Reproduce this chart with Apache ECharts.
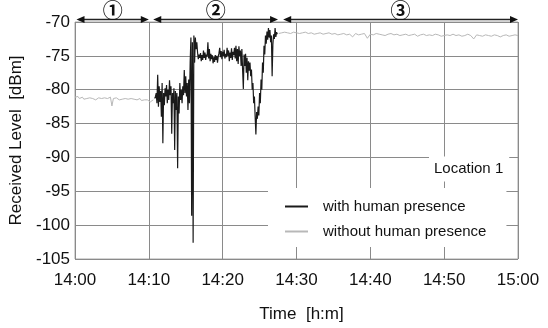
<!DOCTYPE html>
<html>
<head>
<meta charset="utf-8">
<script src="https://cdn.jsdelivr.net/npm/echarts@6/dist/echarts.min.js"></script>
<style>
  html, body { margin: 0; padding: 0; background: #fff; }
  #main { width: 548px; height: 328px; }
</style>
</head>
<body>
<div id="main"></div>
<script>
// minutes after 14:00
const xTicks = [0, 10, 20, 30, 40, 50, 60];
const yTicks = [-105, -100, -95, -90, -85, -80, -75, -70];

// phase markers at the top (①②③)
const phaseLabels = ['①', '②', '③'];
const phaseStart = [0.2, 10.6, 28.2];
const phaseEnd = [10, 27.5, 60];

// without human presence, part 1: from 0 min, every 0.2 min
const quietStart1 = 0, quietStep1 = 0.2;
const quietLevel1 = [
  -81.1, -81.2, -81.0, -81.3, -81.2, -81.1, -81.4, -81.2, -81.3, -81.1,
  -81.2, -81.4, -81.3, -81.2, -81.5, -81.3, -81.2, -81.4, -81.3, -81.5,
  -81.2, -81.4, -81.3, -81.2, -81.1, -82.4, -81.3, -81.4, -81.2, -81.3,
  -81.5, -81.3, -81.4, -81.2, -81.3, -81.5, -81.4, -81.2, -81.3, -81.5,
  -81.4, -81.3, -81.5, -81.4, -81.3, -81.6, -81.4, -81.5, -81.7, -81.5,
  -81.6, -81.8, -81.6, -81.5
];

// without human presence, part 2: from 27.6 min, every 0.4 min
const quietStart2 = 27.6, quietStep2 = 0.4;
const quietLevel2 = [
  -71.7, -71.6, -71.5, -71.6, -71.7, -71.5, -71.6, -71.7, -71.6, -71.5,
  -71.7, -71.6, -71.8, -71.7, -71.6, -71.8, -71.7, -71.6, -71.8, -71.7,
  -71.9, -71.8, -71.7, -71.9, -71.8, -72.2, -71.7, -71.9, -71.8, -71.7,
  -72.4, -71.8, -71.9, -71.7, -71.8, -71.9, -72.0, -71.8, -71.7, -71.9,
  -71.8, -72.0, -71.9, -71.8, -72.0, -71.9, -71.8, -72.1, -71.9, -71.8,
  -72.0, -71.9, -72.0, -71.8, -71.9, -72.1, -72.0, -71.9, -72.0, -71.8,
  -72.0, -71.9, -72.1, -72.0, -71.8, -72.0, -72.5, -71.9, -72.0, -72.1,
  -71.9, -72.0, -72.1, -71.9, -72.0, -72.2, -72.0, -71.9, -72.1, -72.0,
  -71.9, -72.0
];

// with human presence: from 10.8 min, every 0.1 min
const humanStart = 10.8, humanStep = 0.1;
const humanLevel = [
  -81.3, -81.0, -80.5, -82.0, -77.8, -82.5, -79.5, -81.8, -80.2, -84.0,
  -79.0, -87.9, -80.5, -82.3, -79.8, -81.0, -79.3, -82.0, -80.0, -81.5,
  -78.6, -80.8, -79.5, -86.5, -80.5, -82.0, -79.8, -88.9, -80.2, -83.0,
  -80.5, -91.6, -81.0, -83.5, -79.0, -81.5, -80.0, -82.0, -79.5, -80.8,
  -77.1, -80.5, -78.0, -81.0, -79.0, -83.0, -78.5, -82.0, -76.0, -72.3,
  -98.6, -73.0, -102.6, -72.0, -76.0, -72.3, -74.0, -73.0, -74.5, -75.5,
  -74.8, -75.3, -74.6, -75.8, -74.9, -75.6, -74.2, -75.3, -74.5, -75.6,
  -74.8, -75.1, -73.0, -75.4, -74.0, -75.8, -74.7, -75.5, -74.9, -76.1,
  -75.2, -75.9, -74.9, -75.6, -75.0, -76.0, -75.1, -74.6, -73.8, -75.2,
  -74.3, -75.5, -74.4, -75.0, -74.1, -75.4, -74.7, -75.2, -73.8, -75.0,
  -74.2, -75.8, -74.5, -75.3, -73.9, -75.6, -74.4, -74.9, -73.8, -75.4,
  -73.5, -75.8, -74.0, -76.2, -73.6, -75.0, -74.2, -76.5, -74.0, -77.0,
  -79.9, -74.8, -76.5, -74.7, -77.5, -75.3, -78.6, -75.8, -77.2, -76.0,
  -78.0, -77.0, -80.0, -79.0, -82.0, -81.0, -84.0, -86.6, -83.3, -84.3,
  -82.5, -83.8, -80.5, -82.0, -78.5, -80.0, -76.0, -77.5, -73.5, -74.8,
  -72.0, -73.2, -71.4, -72.6, -70.9, -72.3, -71.2, -73.0, -72.0, -78.0,
  -73.3, -71.8, -72.5, -70.9, -72.2, -71.5, -71.8
];

const pairs = (start, step, vals) => vals.map((v, i) => [+(start + step * i).toFixed(2), v]);
const humanData = pairs(humanStart, humanStep, humanLevel);
const quietData = pairs(quietStart1, quietStep1, quietLevel1)
  .concat([[10.7, '-']], pairs(quietStart2, quietStep2, quietLevel2));

const font = 'Liberation Sans, Arial, sans-serif';
const fmtTime = v => (14 + Math.floor(v / 60)) + ':' + String(v % 60).padStart(2, '0');

const chart = echarts.init(document.getElementById('main'));
chart.setOption({
  animation: false,
  backgroundColor: '#fff',
  grid: {left: 75, right: 30, top: 22, bottom: 61, show: true, borderColor: '#a8a8a8', borderWidth: 1},
  xAxis: {
    type: 'value', min: xTicks[0], max: xTicks[xTicks.length - 1], interval: 10,
    name: 'Time  [h:m]', nameLocation: 'middle', nameGap: 47,
    nameTextStyle: {color: '#111', fontSize: 17, fontFamily: font, padding: [0, 0, 0, 10]},
    axisLine: {show: false}, axisTick: {show: false},
    axisLabel: {color: '#111', fontSize: 17, fontFamily: font, margin: 13, formatter: fmtTime},
    splitLine: {show: true, lineStyle: {color: '#8a8a8a', width: 1}}
  },
  yAxis: {
    type: 'value', min: yTicks[0], max: yTicks[yTicks.length - 1], interval: 5,
    name: 'Received Level  [dBm]', nameLocation: 'middle', nameGap: 43,
    nameTextStyle: {color: '#111', fontSize: 17, fontFamily: font},
    axisLine: {show: false}, axisTick: {show: false},
    axisLabel: {color: '#111', fontSize: 17, fontFamily: font, margin: 5},
    splitLine: {show: true, lineStyle: {color: '#8a8a8a', width: 1}}
  },
  legend: {
    orient: 'vertical', left: 268, top: 188,
    padding: [11, 20, 8, 17], itemGap: 10,
    backgroundColor: '#fff',
    icon: 'rect', itemWidth: 23, itemHeight: 2,
    textStyle: {color: '#111', fontSize: 15, fontFamily: font, padding: [0, 0, 0, 10]},
    data: ['with human presence', 'without human presence']
  },
  series: [
    {
      name: 'without human presence', type: 'line', data: quietData,
      showSymbol: false, symbol: 'none',
      color: '#b8b8b8', lineStyle: {color: '#b8b8b8', width: 1}
    },
    {
      name: 'with human presence', type: 'line', data: humanData,
      showSymbol: false, symbol: 'none',
      color: '#1a1a1a', lineStyle: {color: '#1a1a1a', width: 1.2}
    }
  ]
});

// phase arrows and the "Location 1" tag
const graphics = [];
const yTop = chart.convertToPixel({gridIndex: 0}, [0, -70])[1];
const ay = yTop - 2.5;
phaseLabels.forEach((lab, i) => {
  const x1 = chart.convertToPixel({gridIndex: 0}, [phaseStart[i], -70])[0];
  const x2 = chart.convertToPixel({gridIndex: 0}, [phaseEnd[i], -70])[0];
  graphics.push({type: 'line', shape: {x1: x1 + 6, y1: ay, x2: x2 - 6, y2: ay},
    style: {stroke: '#222', lineWidth: 1.3}, z: 10});
  graphics.push({type: 'polygon', shape: {points: [[x1, ay], [x1 + 8, ay - 3.5], [x1 + 8, ay + 3.5]]},
    style: {fill: '#111'}, z: 10});
  graphics.push({type: 'polygon', shape: {points: [[x2, ay], [x2 - 8, ay - 3.5], [x2 - 8, ay + 3.5]]},
    style: {fill: '#111'}, z: 10});
  graphics.push({type: 'text', x: (x1 + x2) / 2, y: 10, z: 10,
    style: {text: lab, fill: '#111', fontSize: 20, fontWeight: 'bold',
      fontFamily: 'Noto Sans CJK JP, DejaVu Sans, sans-serif',
      align: 'center', verticalAlign: 'middle'}});
});
graphics.push({type: 'text', x: 429, y: 169, z: 10,
  style: {text: 'Location 1', fill: '#111', fontSize: 15, fontFamily: font,
    align: 'left', verticalAlign: 'middle', backgroundColor: '#fff', padding: [5, 6, 5, 5]}});
chart.setOption({graphic: graphics});
</script>
</body>
</html>
